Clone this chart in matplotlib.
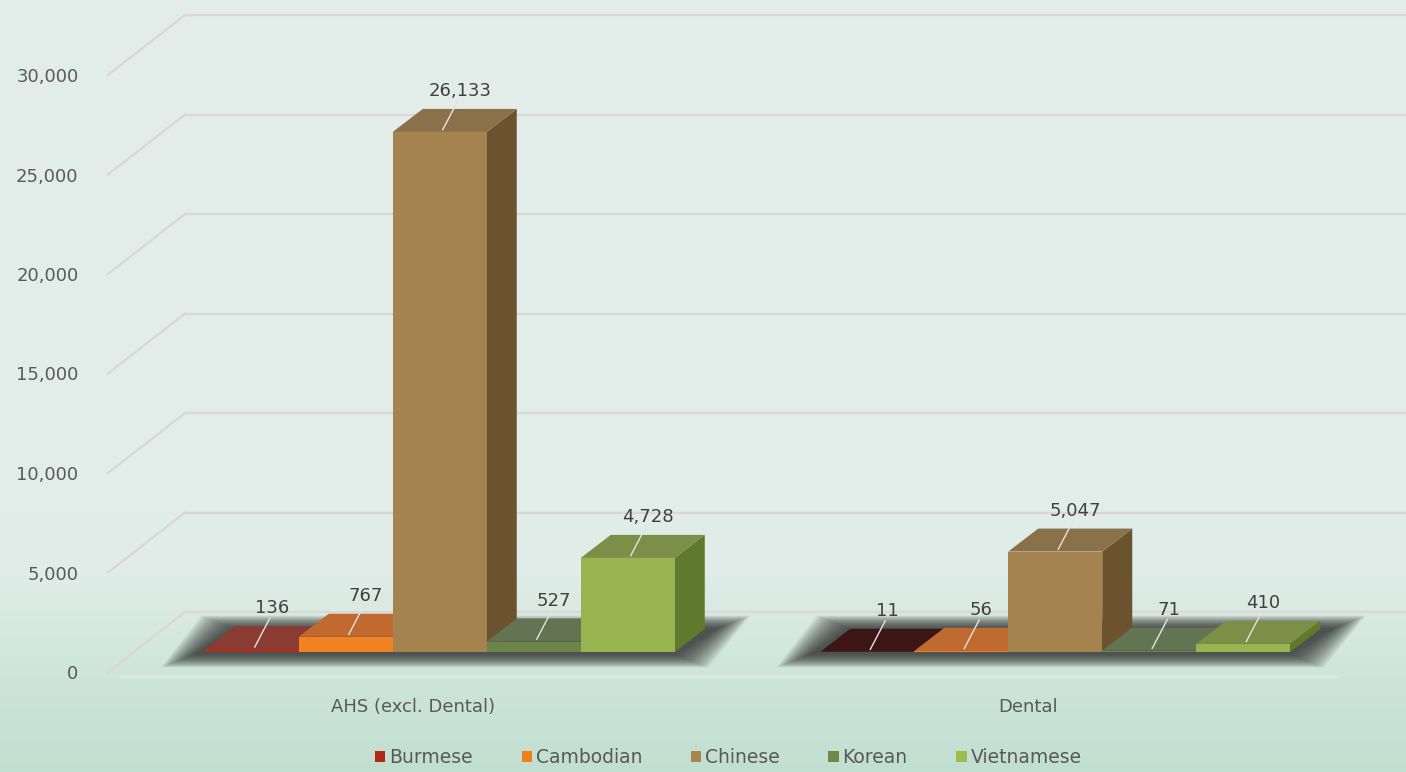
import numpy as np
import matplotlib.pyplot as plt
from matplotlib.patches import Polygon, Patch

categories = ['AHS (excl. Dental)', 'Dental']
series = ['Burmese', 'Cambodian', 'Chinese', 'Korean', 'Vietnamese']
burmese = [136, 11]
cambodian = [767, 56]
chinese = [26133, 5047]
korean = [527, 71]
vietnamese = [4728, 410]
yticks = [0, 5000, 10000, 15000, 20000, 25000, 30000]

values = [burmese, cambodian, chinese, korean, vietnamese]
front_col = ['#a8321f', '#f08222', '#a5834f', '#6b8449', '#98b44e']
top_col = ['#8a3b32', '#c06a30', '#8b714a', '#627452', '#7b8f46']
side_col = ['#6e261d', '#b05a1c', '#6b5330', '#4e6235', '#5f7a2c']
legend_col = ['#b0281a', '#f07f1a', '#a8844f', '#6e8a4a', '#9ebb4e']
# the dental burmese top is lit much darker in the original
top_override = {(1, 0): '#3b1614'}

W, H = 1406, 772
fig = plt.figure(figsize=(W / 100, H / 100), dpi=100)
FS = 13

# background gradient
bg = fig.add_axes([0, 0, 1, 1], zorder=-10)
t = np.linspace(0, 1, 400)
stops = [0, 0.74, 0.86, 1]
r = np.interp(t, stops, [0.890, 0.878, 0.815, 0.757])
g = np.interp(t, stops, [0.933, 0.929, 0.902, 0.875])
b = np.interp(t, stops, [0.918, 0.910, 0.860, 0.816])
img = np.stack([r, g, b], axis=1)[:, None, :]
bg.imshow(img, aspect='auto', extent=[0, 1, 0, 1])
bg.axis('off')

# front plane mapping: x 105..1336 px, y 672..75 px
ax = fig.add_axes([105 / W, 100 / H, 1231 / W, 597 / H])
ax.set_xlim(-0.5, 1.5)
ax.set_ylim(0, 30000)
ax.patch.set_alpha(0)
for s in ax.spines.values():
    s.set_visible(False)

px_x = 2.0 / 1231
px_y = 30000 / 597
DX, DY = 80 * px_x, 60 * px_y          # full depth of the box
dx0, dy0 = 27 * px_x, 20 * px_y        # bar front depth
ddx, ddy = 30 * px_x, 23 * px_y        # bar depth
bw = 94 * px_x

grid_c = '#dcd6d6'
for v in yticks:
    ax.plot([-0.5 + DX, 1.5 + DX + 0.2], [v + DY, v + DY], color=grid_c, lw=1.6, clip_on=False, zorder=1)
    ax.plot([-0.5 + 3 * px_x, -0.5 + DX], [v, v + DY], color=grid_c, lw=1.6, clip_on=False, zorder=1)
ax.plot([-0.5 + 15 * px_x, 1.5], [-4 * px_y, -4 * px_y], color='#dfe9e5', lw=2, clip_on=False, zorder=1)

x = np.arange(len(categories))
for gi in range(len(categories)):
    # soft shadow below the group
    xl = x[gi] - 2.5 * bw + dx0
    xr = x[gi] + 2.5 * bw + dx0
    n = 24
    for k in range(n):
        e = (n - k) * 1.4
        ex, ey = e * px_x, e * 0.4 * px_y
        sh = Polygon([(xl - ex - 10 * px_x, dy0 - ey - 2 * px_y), (xr + ex, dy0 - ey - 2 * px_y),
                      (xr + ddx + ex + 12 * px_x, dy0 + ddy + ey), (xl + ddx - ex, dy0 + ddy + ey)],
                     closed=True, facecolor='#2e2e2e', alpha=0.06, lw=0, clip_on=False, zorder=2)
        ax.add_patch(sh)

z = 3
for gi in range(len(categories)):
    for si in range(len(series)):
        v = values[si][gi]
        left = x[gi] + (si - 2.5) * bw + dx0
        right = left + bw
        top = dy0 + v
        side = Polygon([(right, dy0), (right, top), (right + ddx, top + ddy), (right + ddx, dy0 + ddy)],
                       closed=True, facecolor=side_col[si], lw=0, clip_on=False, zorder=z)
        ax.add_patch(side)
        ax.bar(left, v, width=bw, bottom=dy0, align='edge', color=front_col[si], lw=0,
               clip_on=False, zorder=z + 0.1)
        tc = top_override.get((gi, si), top_col[si])
        tp = Polygon([(left, top), (right, top), (right + ddx, top + ddy), (left + ddx, top + ddy)],
                     closed=True, facecolor=tc, lw=0, clip_on=False, zorder=z + 0.2)
        ax.add_patch(tp)
        z += 1

# value labels with leader lines
for gi in range(len(categories)):
    for si in range(len(series)):
        v = values[si][gi]
        cx = x[gi] + (si - 2) * bw + dx0
        ty = dy0 + v
        lx = cx + 20 * px_x
        ly = ty + ddy + 9 * px_y
        ax.plot([cx + ddx * 0.1, lx - 2 * px_x], [ty + ddy * 0.1, ly - 1 * px_y], color='#e4e4e4', lw=1,
                clip_on=False, zorder=50)
        ax.text(lx, ly, f'{v:,}', ha='center', va='bottom', fontsize=FS, color='#404040',
                clip_on=False, zorder=51)

ax.set_yticks(yticks)
ax.set_yticklabels([f'{v:,}' for v in yticks])
ax.tick_params(axis='y', length=0, pad=19, labelsize=FS, labelcolor='#595959')
ax.set_xticks(x)
ax.set_xticklabels(categories)
ax.tick_params(axis='x', length=0, pad=19, labelsize=FS, labelcolor='#595959')

handles = [Patch(facecolor=c, label=s) for c, s in zip(legend_col, series)]
leg = fig.legend(handles=handles, loc='lower center', ncol=5, frameon=False,
                 bbox_to_anchor=(0.518, -0.016), fontsize=13.5, handlelength=0.55, handleheight=0.55,
                 handletextpad=0.2, columnspacing=2.6)
for txt in leg.get_texts():
    txt.set_color('#595959')

fig.savefig('out.png', dpi=100)
